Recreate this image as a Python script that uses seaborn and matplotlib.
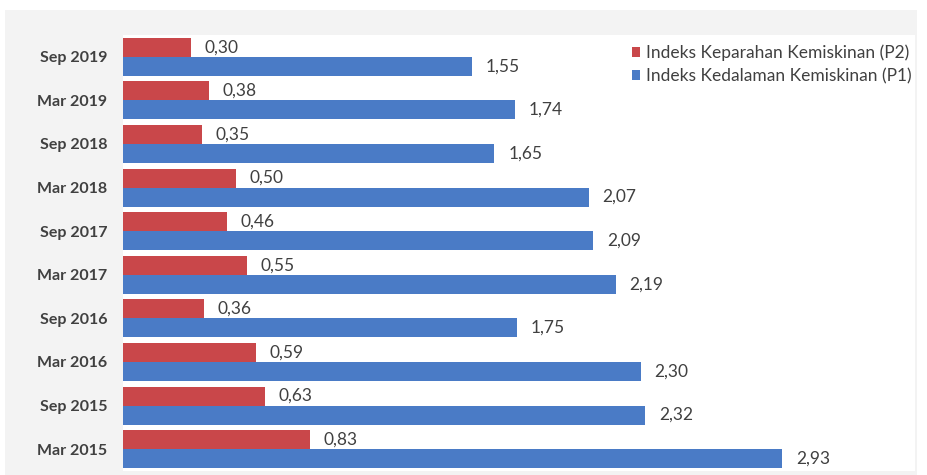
import matplotlib
matplotlib.use("Agg")
import matplotlib.pyplot as plt
import seaborn as sns
import pandas as pd
from matplotlib.patches import Patch, Rectangle

periods = ["Sep 2019", "Mar 2019", "Sep 2018", "Mar 2018", "Sep 2017",
           "Mar 2017", "Sep 2016", "Mar 2016", "Sep 2015", "Mar 2015"]
p2_values = [0.30, 0.38, 0.35, 0.50, 0.46, 0.55, 0.36, 0.59, 0.63, 0.83]
p1_values = [1.55, 1.74, 1.65, 2.07, 2.09, 2.19, 1.75, 2.30, 2.32, 2.93]
series_names = ["Indeks Keparahan Kemiskinan (P2)", "Indeks Kedalaman Kemiskinan (P1)"]

df = pd.DataFrame({
    "period": periods * 2,
    "value": p2_values + p1_values,
    "series": [series_names[0]] * len(periods) + [series_names[1]] * len(periods),
})

sns.set_theme(style="white")
plt.rcParams["font.family"] = ["Lato", "DejaVu Sans"]

red = "#c9474a"
blue = "#4a7bc6"
text_col = "#404040"

fig = plt.figure(figsize=(9.27, 4.75), dpi=100, facecolor="white")
# light gray chart area background
fig.patches.append(Rectangle((5 / 927, 0.0), 912 / 927, 1 - 10 / 475,
                             transform=fig.transFigure, facecolor="#f3f3f3",
                             edgecolor="none", zorder=-10))
ax = fig.add_axes([123 / 927, 4 / 475, 792 / 927, 436 / 475])
ax.set_facecolor("white")

sns.barplot(data=df, y="period", x="value", hue="series", order=periods,
            hue_order=series_names, palette=[red, blue], orient="h",
            width=0.87, gap=0, saturation=1, linewidth=0, ax=ax, legend=False)

ax.set_xlim(0, 3.52)
ax.set_ylim(9.5, -0.5)
ax.set_xlabel("")
ax.set_ylabel("")
ax.set_xticks([])
for s in ax.spines.values():
    s.set_visible(False)
ax.tick_params(axis="y", length=0, pad=11.5)
for lbl in ax.get_yticklabels():
    lbl.set_fontweight("bold")
    lbl.set_fontsize(11.5)
    lbl.set_color(text_col)

for cont in ax.containers:
    labels = [f"{v:.2f}".replace(".", ",") for v in cont.datavalues]
    ax.bar_label(cont, labels=labels, padding=10, fontsize=12.5, color=text_col)

handles = [Patch(facecolor=red, edgecolor="none"), Patch(facecolor=blue, edgecolor="none")]
fig.legend(handles, series_names, loc="upper left",
           bbox_to_anchor=(616 / 927, 1 - 29 / 475), frameon=False,
           handlelength=0.5, handleheight=0.5, handletextpad=0.35,
           labelspacing=0.4, fontsize=12.5, labelcolor=text_col)

fig.savefig("out.png", dpi=100, facecolor=fig.get_facecolor())
